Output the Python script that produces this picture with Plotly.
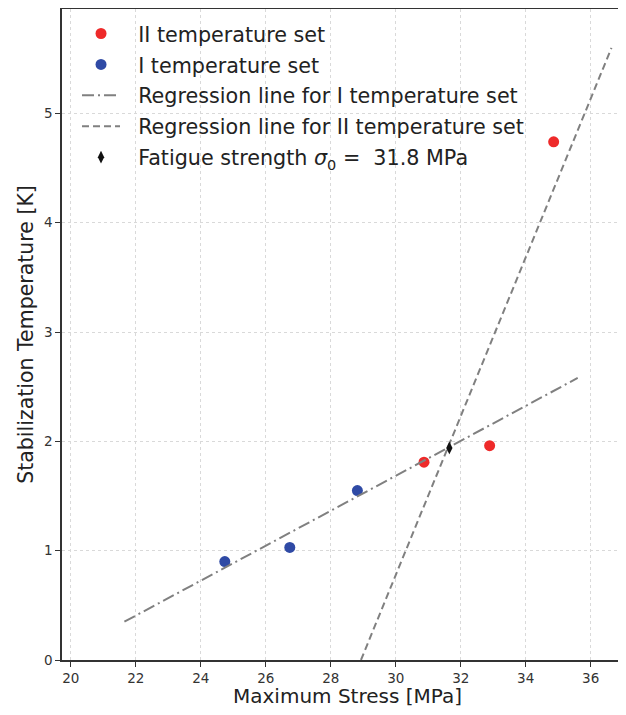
import plotly.graph_objects as go

# Data
set1_x = [24.74, 26.74, 28.82]
set1_y = [0.90, 1.03, 1.55]
set2_x = [30.87, 32.89, 34.86]
set2_y = [1.81, 1.96, 4.74]
reg1_x = [21.65, 35.60]
reg1_y = [0.35, 2.58]
reg2_x = [28.93, 36.64]
reg2_y = [0.00, 5.60]
fatigue_x = [31.65]
fatigue_y = [1.94]
x_ticks = [20, 22, 24, 26, 28, 30, 32, 34, 36]
y_ticks = [0, 1, 2, 3, 4, 5]

RED = "#ee2a2a"
BLUE = "#2f4aa5"
GREY = "#808080"
FONT = "DejaVu Sans"
PAD = "\u00a0\u00a0"

fig = go.Figure()
fig.add_trace(go.Scatter(x=set2_x, y=set2_y, mode="markers", name=PAD + "II temperature set",
                         legendgroup="a", marker=dict(color=RED, size=11)))
fig.add_trace(go.Scatter(x=set1_x, y=set1_y, mode="markers", name=PAD + "I temperature set",
                         legendgroup="b", marker=dict(color=BLUE, size=11)))
fig.add_trace(go.Scatter(x=reg1_x, y=reg1_y, mode="lines", name=PAD + "Regression line for I temperature set",
                         legendgroup="c", line=dict(color=GREY, width=2, dash="12px,4px,2px,4px")))
fig.add_trace(go.Scatter(x=reg2_x, y=reg2_y, mode="lines", name=PAD + "Regression line for II temperature set",
                         legendgroup="d", line=dict(color=GREY, width=2, dash="7px,4px")))
fig.add_trace(go.Scatter(x=fatigue_x, y=fatigue_y, mode="markers",
                         name=PAD + "Fatigue strength <i>σ</i><sub>0</sub> =  31.8 MPa",
                         legendgroup="e", marker=dict(color="#111111", size=9, symbol="diamond-tall")))

axis_common = dict(
    showline=True, linecolor="#333333", linewidth=1.5,
    ticks="outside", ticklen=5, tickwidth=1, tickcolor="#333333",
    showgrid=True, gridcolor="#d9d9d9", griddash="dot", gridwidth=1,
    zeroline=False, tickfont=dict(family=FONT, size=13.5, color="#333333"),
    automargin=False,
)

fig.update_layout(
    width=610, height=699,
    margin=dict(l=54, r=0, t=1, b=47, autoexpand=False),
    paper_bgcolor="white", plot_bgcolor="white",
    font=dict(family=FONT, color="#222222"),
    xaxis=dict(range=[19.73, 36.84], tickvals=x_ticks, mirror=True, **axis_common),
    yaxis=dict(range=[0, 5.955], tickvals=y_ticks, mirror=False,
               title=dict(text="Stabilization Temperature [K]", font=dict(family=FONT, size=20.5, color="#222222"), standoff=5),
               **axis_common),
    legend=dict(x=0.027, y=0.993, xanchor="left", yanchor="top",
                font=dict(family=FONT, size=20.7, color="#222222"),
                itemwidth=38,
                bgcolor="rgba(255,255,255,0)", traceorder="grouped", tracegroupgap=1),
    showlegend=True,
    annotations=[dict(text="Maximum Stress [MPa]", xref="paper", yref="paper", x=0.514, y=0,
                      xanchor="center", yanchor="top", yshift=-23, borderpad=0, showarrow=False,
                      font=dict(family=FONT, size=20, color="#222222"))],
)

fig.write_html("out.html")
